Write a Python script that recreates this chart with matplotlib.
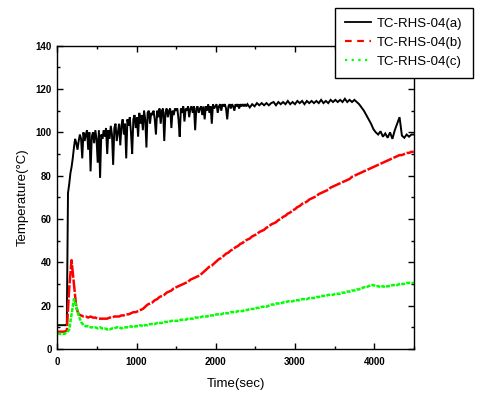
import numpy as np
import matplotlib
matplotlib.use("Agg")
import matplotlib.pyplot as plt
from matplotlib.ticker import MultipleLocator
from matplotlib.lines import Line2D

plt.rcParams['font.family'] = ['Liberation Sans', 'DejaVu Sans']

# sampling times (s) for (a): every 15 s up to 2385 s, then every 30 s to 4500 s
time_a = list(range(0, 2400, 15)) + list(range(2400, 4501, 30))
# sampling times (s) for (b) and (c): every 30 s from 0 to 4500
time = list(range(0, 4501, 30))

series_a = [  # TC-RHS-04(a)
    11, 11, 11, 11, 11, 11, 11, 11, 11.5, 72, 76, 81, 84, 88, 93, 97, 95, 92, 96, 99,
    97, 88, 100, 96, 99, 101, 92, 100, 82, 98, 100, 95, 101, 97, 86, 101, 79, 99, 97, 101,
    98, 102, 90, 101, 97, 103, 99, 85, 102, 104, 96, 100, 104, 94, 103, 106, 99, 104, 88, 106,
    103, 107, 100, 90, 106, 108, 102, 107, 98, 109, 104, 108, 101, 110, 106, 93, 109, 110, 104, 109,
    108, 110, 106, 99, 110, 107, 111, 104, 110, 111, 96, 109, 111, 107, 110, 111, 102, 110, 108, 111,
    110, 111, 106, 98, 111, 109, 112, 105, 111, 110, 112, 107, 111, 112, 109, 112, 101, 111, 112, 109,
    111, 112, 108, 112, 106, 112, 110, 113, 109, 112, 104, 113, 111, 112, 113, 109, 112, 113, 110, 113,
    112, 113, 111, 106, 112, 113, 111, 113, 112, 110, 113, 112, 113, 111, 113, 112, 113, 112, 113, 112,
    113, 111.5, 113, 112, 113.5, 112.5, 113.5, 112.5, 113.5, 112.5,
    113.5, 114, 112.5, 114, 113, 114, 113, 114.5, 113, 114,
    113, 114.5, 113.5, 114.5, 113, 114.5, 113.5, 114.5, 113.5, 114.5,
    113.5, 115, 113.5, 114.5, 113.5, 115, 114, 115, 114, 115,
    114, 115.5, 114, 115, 114, 115, 114, 113, 111.5, 110,
    108, 106, 104, 101.5, 100, 99, 100.5, 98, 99.5, 97.5,
    100, 97, 101, 104, 107, 98.5, 97.5, 99, 98, 99,
    99,
]

series_b = [  # TC-RHS-04(b)
    8, 8, 8, 8, 8.5, 28, 41, 30, 19, 16,
    15.5, 15, 15, 14.5, 15, 14.5, 14.5, 14, 14, 14,
    14, 14, 14.5, 14.5, 15, 15, 15, 15.5, 15.5, 16,
    16, 16.5, 17, 17, 17.5, 18, 18.5, 19.5, 20.5, 21,
    21.5, 22.5, 23, 24, 24.5, 25, 26, 26.5, 27, 28,
    28.5, 29, 29.5, 30, 30.5, 31, 32, 32.5, 33, 33.5,
    34, 35, 36, 37, 38, 38.5, 39.5, 40.5, 41.5, 42,
    43, 44, 44.5, 45.5, 46, 47, 47.5, 48.5, 49, 50,
    50.5, 51, 52, 52.5, 53, 54, 54.5, 55, 56, 56.5,
    57.5, 58, 58.5, 59.5, 60, 61, 61.5, 62.5, 63, 64,
    64.5, 65.5, 66, 67, 67.5, 68, 69, 69.5, 70, 70.5,
    71.5, 72, 72.5, 73, 73.5, 74.5, 75, 75.5, 76, 76.5,
    77, 77.5, 78, 78.5, 79.5, 80, 80.5, 81, 81.5, 82,
    82.5, 83, 83.5, 84, 84.5, 85, 85.5, 86, 86.5, 87,
    87.5, 88, 88.5, 89, 89.5, 89.5, 90, 90.5, 90.5, 91,
    91,
]

series_c = [  # TC-RHS-04(c)
    7, 7, 7, 7, 7.5, 9, 16, 23, 20, 15.5,
    12.5, 11, 10.5, 10.5, 10, 10, 10, 9.5, 10, 9.5,
    9.5, 9, 9, 9.5, 9.5, 10, 10, 9.5, 10, 10,
    10, 10.5, 10, 10.5, 10.5, 11, 10.5, 11, 11, 11.5,
    11.5, 11.5, 12, 12, 12, 12.5, 12.5, 12.5, 13, 13,
    13, 13, 13.5, 13.5, 13.5, 14, 14, 14, 14.5, 14.5,
    14.5, 15, 15, 15, 15.5, 15.5, 15.5, 16, 16, 16,
    16.5, 16.5, 16.5, 17, 17, 17, 17.5, 17.5, 17.5, 18,
    18, 18.5, 18.5, 18.5, 19, 19, 19.5, 19.5, 19.5, 20,
    20.5, 20.5, 21, 21, 21, 21.5, 21.5, 22, 22, 22,
    22.5, 22.5, 22.5, 23, 23, 23, 23.5, 23.5, 23.5, 24,
    24, 24.5, 24.5, 24.5, 25, 25, 25, 25.5, 25.5, 25.5,
    26, 26, 26.5, 26.5, 27, 27, 27.5, 27.5, 28, 28.5,
    28.5, 29, 29.5, 29.5, 29, 29, 28.5, 29, 28.5, 29,
    29, 29.5, 29.5, 29.5, 30, 30, 30, 30.5, 30.5, 30.5,
    30.5,
]

labels = ['TC-RHS-04(a)', 'TC-RHS-04(b)', 'TC-RHS-04(c)']
colors = ['black', '#ff0000', '#00ff00']

fig = plt.figure(figsize=(4.78, 3.98), dpi=100)
ax = fig.add_axes([57.3 / 478, (398 - 349) / 398, (413.8 - 57.3) / 478, (349 - 45.7) / 398])

ax.plot(time_a, series_a, color=colors[0], lw=1.4, solid_joinstyle='miter')
ax.plot(time, series_b, color=colors[1], lw=1.8, ls=(0, (5, 0.7)))
ax.plot(time, series_c, color=colors[2], lw=1.8, ls=(0, (1.6, 0.5)))

ax.set_xlim(0, 4500)
ax.set_ylim(0, 140)
ax.xaxis.set_major_locator(MultipleLocator(1000))
ax.xaxis.set_minor_locator(MultipleLocator(500))
ax.yaxis.set_major_locator(MultipleLocator(20))
ax.yaxis.set_minor_locator(MultipleLocator(10))
ax.tick_params(which='both', direction='in', top=True, right=True, width=1)
ax.tick_params(which='major', length=4.5, labelsize=7)
ax.tick_params(axis='x', which='major', pad=5.5)
ax.tick_params(axis='y', which='major', pad=4)
ax.tick_params(which='minor', length=2.5)
for lab in ax.get_xticklabels() + ax.get_yticklabels():
    lab.set_fontweight('bold')
for s in ax.spines.values():
    s.set_linewidth(1.0)

ax.set_xlabel('Time(sec)', fontsize=9.5, labelpad=8)
ax.set_ylabel('Temperature(°C)', fontsize=9.5, labelpad=5)

handles = [
    Line2D([], [], color=colors[0], lw=1.3),
    Line2D([], [], color=colors[1], lw=1.6, ls=(0, (3, 2.5))),
    Line2D([], [], color=colors[2], lw=1.6, ls=(0, (1, 2))),
]
leg = fig.legend(handles, labels, loc='upper left',
                 bbox_to_anchor=(335 / 478, 1 - 7.5 / 398),
                 bbox_transform=fig.transFigure, fontsize=9.5, frameon=True,
                 fancybox=False, edgecolor='black', framealpha=1,
                 handlelength=2.0, handletextpad=0.45, labelspacing=0.52,
                 borderpad=0.75, borderaxespad=0)
leg.get_frame().set_linewidth(1.0)

fig.savefig('out.png', dpi=100)
